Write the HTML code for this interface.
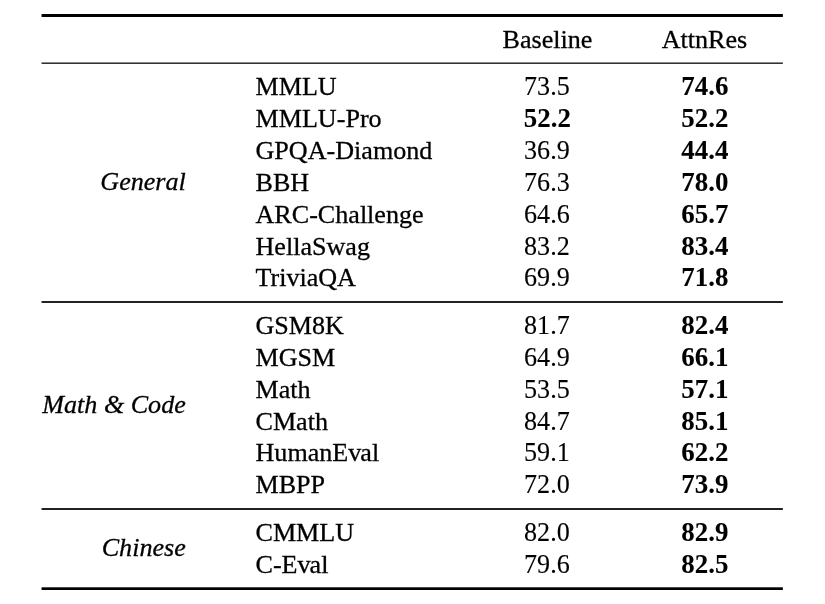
<!DOCTYPE html>
<html><head><meta charset="utf-8"><title>Table</title>
<style>
html,body{margin:0;padding:0;background:#fff;}
body{width:825px;height:604px;position:relative;overflow:hidden;font-family:"Liberation Serif",serif;font-size:26.1px;color:#000;}
.t{position:absolute;white-space:nowrap;line-height:40px;height:40px;}
.n{}
.c{transform:translateX(-50%);}
.d{transform:translateX(-50%) scaleY(1.05);transform-origin:0 27.81px;-webkit-text-stroke:0.12px #000;}
.cb{transform:translateX(-50%);font-weight:bold;font-size:26.9px;-webkit-text-stroke:0.08px #000;}
.r{transform:translateX(-100%);font-style:italic;}
.k{letter-spacing:-1px;}
svg{position:absolute;left:0;top:0;}
#txt{position:absolute;left:0;top:0;width:825px;height:604px;will-change:transform;-webkit-text-stroke:0.3px #000;}
</style></head><body>
<svg width="825" height="604" viewBox="0 0 825 604">
<rect x="41.55" y="14" width="741.3" height="3" fill="#000"/>
<rect x="41.55" y="62.42" width="741.3" height="1.58" fill="#333"/>
<rect x="41.55" y="301" width="741.3" height="2" fill="#222"/>
<rect x="41.55" y="508" width="741.3" height="2" fill="#222"/>
<rect x="41.55" y="587.3" width="741.3" height="2.7" fill="#000"/>
</svg>
<div id="txt">
<div class="t c" style="left:547.5px;top:20.19px">Baseline</div>
<div class="t c" style="left:704.5px;top:20.19px">AttnRes</div>
<div class="t r" style="left:185.8px;top:162.19px">General</div>
<div class="t r" style="left:185.8px;top:385.19px">Math &amp; Code</div>
<div class="t r" style="left:185.8px;top:528.19px">Chinese</div>
<div class="t n" style="left:255.5px;top:67.19px">MMLU</div>
<div class="t d" style="left:546.9px;top:67.19px">73.5</div>
<div class="t cb" style="left:704.8px;top:65.92px">74.6</div>
<div class="t n" style="left:255.5px;top:99.19px">MMLU-Pro</div>
<div class="t cb" style="left:547.3px;top:97.92px">52.2</div>
<div class="t cb" style="left:704.8px;top:97.92px">52.2</div>
<div class="t n" style="left:255.5px;top:131.19px">GPQA-Diamond</div>
<div class="t d" style="left:546.9px;top:131.19px">36.9</div>
<div class="t cb" style="left:704.8px;top:129.92px">44.4</div>
<div class="t n" style="left:255.5px;top:163.19px">BBH</div>
<div class="t d" style="left:546.9px;top:163.19px">76.3</div>
<div class="t cb" style="left:704.8px;top:161.92px">78.0</div>
<div class="t n" style="left:255.5px;top:195.19px">ARC-Challenge</div>
<div class="t d" style="left:546.9px;top:195.19px">64.6</div>
<div class="t cb" style="left:704.8px;top:193.92px">65.7</div>
<div class="t n" style="left:255.5px;top:227.19px">HellaSwag</div>
<div class="t d" style="left:546.9px;top:227.19px">83.2</div>
<div class="t cb" style="left:704.8px;top:225.92px">83.4</div>
<div class="t n" style="left:255.5px;top:258.19px"><span class="k">T</span>riviaQA</div>
<div class="t d" style="left:546.9px;top:258.19px">69.9</div>
<div class="t cb" style="left:704.8px;top:256.92px">71.8</div>
<div class="t n" style="left:255.5px;top:306.19px">GSM8K</div>
<div class="t d" style="left:546.9px;top:306.19px">81.7</div>
<div class="t cb" style="left:704.8px;top:304.92px">82.4</div>
<div class="t n" style="left:255.5px;top:338.19px">MGSM</div>
<div class="t d" style="left:546.9px;top:338.19px">64.9</div>
<div class="t cb" style="left:704.8px;top:336.92px">66.1</div>
<div class="t n" style="left:255.5px;top:370.19px">Math</div>
<div class="t d" style="left:546.9px;top:370.19px">53.5</div>
<div class="t cb" style="left:704.8px;top:368.92px">57.1</div>
<div class="t n" style="left:255.5px;top:402.19px">CMath</div>
<div class="t d" style="left:546.9px;top:402.19px">84.7</div>
<div class="t cb" style="left:704.8px;top:400.92px">85.1</div>
<div class="t n" style="left:255.5px;top:433.19px">HumanE<span class="k">v</span>al</div>
<div class="t d" style="left:546.9px;top:433.19px">59.1</div>
<div class="t cb" style="left:704.8px;top:431.92px">62.2</div>
<div class="t n" style="left:255.5px;top:465.19px">MBPP</div>
<div class="t d" style="left:546.9px;top:465.19px">72.0</div>
<div class="t cb" style="left:704.8px;top:463.92px">73.9</div>
<div class="t n" style="left:255.5px;top:513.19px">CMMLU</div>
<div class="t d" style="left:546.9px;top:513.19px">82.0</div>
<div class="t cb" style="left:704.8px;top:511.92px">82.9</div>
<div class="t n" style="left:255.5px;top:545.19px">C-E<span class="k">v</span>al</div>
<div class="t d" style="left:546.9px;top:545.19px">79.6</div>
<div class="t cb" style="left:704.8px;top:543.92px">82.5</div>
</div>
</body></html>
